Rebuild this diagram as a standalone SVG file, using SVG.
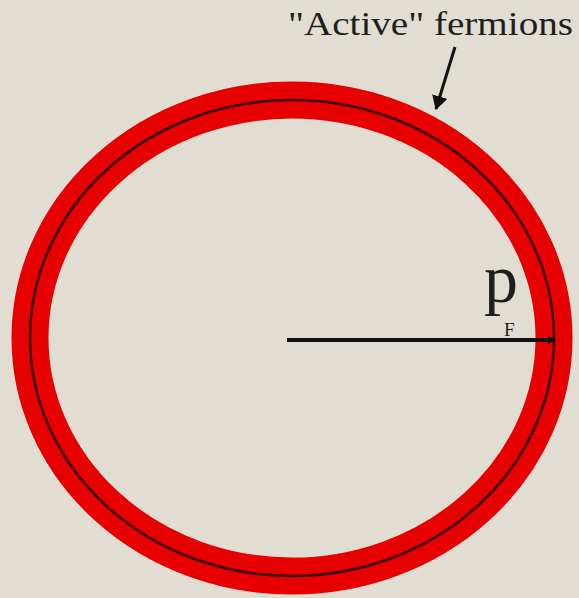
<svg xmlns="http://www.w3.org/2000/svg" width="579" height="598" viewBox="0 0 579 598">
<style>
.lbl{font-family:"Liberation Serif","Times New Roman",serif;fill:#1e1e1e}
.conn{stroke:#111;fill:none}
</style>
<defs>
<marker id="ah" markerWidth="8" markerHeight="8" refX="7" refY="4" orient="auto" markerUnits="userSpaceOnUse" viewBox="0 0 8 8">
<path d="M0,0 L8,4 L0,8 z" fill="#111"/>
</marker>
<marker id="ah2" markerWidth="14" markerHeight="16" refX="13" refY="8" orient="auto" markerUnits="userSpaceOnUse" viewBox="0 0 14 16">
<path d="M0,0 L14,8 L0,16 z" fill="#111"/>
</marker>
</defs>
<rect width="579" height="598" fill="#e2ddd3"/>
<g id="fermi-surface">
<ellipse cx="292" cy="338" rx="262" ry="238" fill="none" stroke="#e60000" stroke-width="37"/>
<ellipse cx="292" cy="338" rx="262" ry="238" fill="none" stroke="#3a0000" stroke-width="2.5"/>
</g>
<g id="label-active">
<text class="lbl" x="288" y="35" font-size="33" textLength="285" lengthAdjust="spacingAndGlyphs">"Active" fermions</text>
</g>
<g id="label-pf">
<text class="lbl" x="484" y="302" font-size="68">p</text>
<text class="lbl" x="504" y="336" font-size="19">F</text>
</g>
<g id="connectors">
<line class="conn" x1="287" y1="340" x2="555" y2="340" stroke-width="4" marker-end="url(#ah)"/>
<line class="conn" x1="455" y1="47" x2="436" y2="109" stroke-width="3" marker-end="url(#ah2)"/>
</g>
</svg>
